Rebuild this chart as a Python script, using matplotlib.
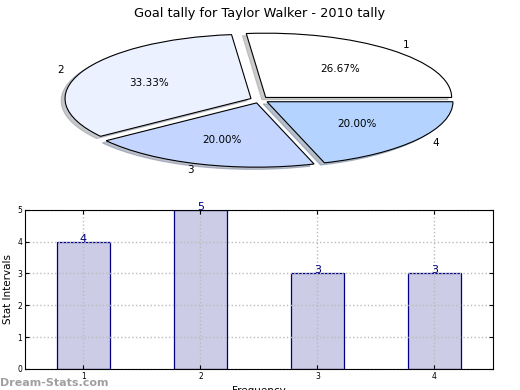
import matplotlib
matplotlib.use("Agg")
import matplotlib.pyplot as plt

labels = ["1", "2", "3", "4"]
goals = [4, 5, 3, 3]
slice_colors = ["#FFFFFF", "#EBF1FF", "#C4D6FF", "#B4D4FF"]
title = "Goal tally for Taylor Walker - 2010 tally"

fig = plt.figure(figsize=(5.2, 3.9), dpi=100)

# pie on top, squashed (no equal aspect)
ax1 = fig.add_axes([0.052, 0.538, 0.894, 0.412])
ax1.pie(goals, labels=labels, colors=slice_colors, explode=[0.05] * 4,
        autopct="%1.2f%%", startangle=0,
        shadow={"ox": -0.015, "oy": -0.025, "shade": 0.4},
        wedgeprops=dict(edgecolor="black", linewidth=0.8),
        textprops=dict(fontsize=7.5))
ax1.set_aspect("auto")
ax1.set_xlim(-1.25, 1.25)
ax1.set_ylim(-1.25, 1.25)
ax1.set_title(title, fontsize=9.3, pad=2)

# bars below
ax2 = fig.add_axes([0.048, 0.054, 0.9, 0.408])
x = list(range(1, len(goals) + 1))
ax2.bar(x, goals, width=0.45, color="#CCCCE6", edgecolor="#000080", linewidth=0.9)
for xi, g in zip(x, goals):
    ax2.text(xi, g, str(g), ha="center", va="baseline", color="#000080",
             fontsize=8, zorder=4)
ax2.set_xlim(0.5, 4.5)
ax2.set_ylim(0, 5)
ax2.set_xticks(x)
ax2.set_yticks(range(0, 6))
ax2.tick_params(direction="in", labelsize=5.5, length=3, top=True, right=True, pad=2)
ax2.grid(True, color="#BBBBBB", linestyle=":", linewidth=1.0)
ax2.set_axisbelow(False)
for s in ax2.spines.values():
    s.set_zorder(3)
ax2.set_ylabel("Stat Intervals", fontsize=7.5, labelpad=3)
ax2.set_xlabel("Frequency", fontsize=7.5, labelpad=4)

fig.text(0.0, 0.01, "Dream-Stats.com", color="#888888", fontsize=8, weight="bold", alpha=0.8)

fig.savefig("out.png", dpi=100)
